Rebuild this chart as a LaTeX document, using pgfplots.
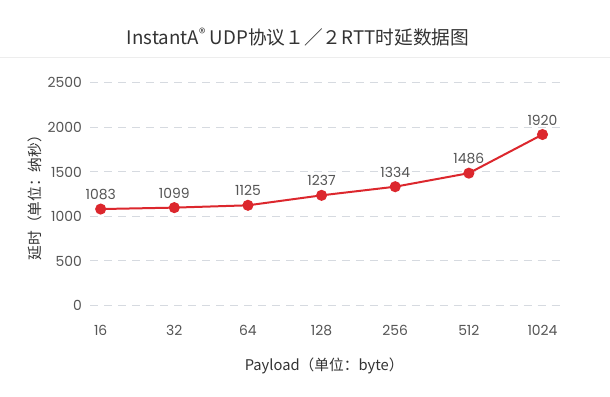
\documentclass[border=0pt]{standalone}
\usepackage{pgfplots}
\pgfplotsset{compat=1.18}
\usepackage{fontspec}
\setmainfont{Noto Sans CJK SC}
\newfontfamily\pop{Poppins}
\definecolor{linered}{HTML}{DC272D}
\definecolor{gridc}{HTML}{D6DAE0}
\definecolor{tickc}{HTML}{555555}
\definecolor{titlec}{HTML}{333333}
\begin{document}
\begin{tikzpicture}[x=1bp,y=1bp]
\path[fill=white] (0,0) rectangle (610,397);
\node[font=\fontsize{18.8}{21}\selectfont, text=titlec] at (298,360) {InstantA\textsuperscript{®} UDP协议１／２RTT时延数据图};
\draw[line width=1bp, color=black!7] (0,339.5) -- (610,339.5);
\begin{axis}[
  at={(90bp,91bp)}, anchor=south west,
  scale only axis, width=475bp, height=223bp,
  xmin=-0.14, xmax=6.3, ymin=0, ymax=2500,
  clip=false,
  axis line style={draw=none},
  major tick length=0pt,
  xtick={0,1,2,3,4,5,6},
  xticklabels={16,32,64,128,256,512,1024},
  ytick={0,500,1000,1500,2000,2500},
  ymajorgrids,
  grid style={gridc, line width=1bp, dash pattern=on 8bp off 6bp},
  ticklabel style={font=\pop\fontsize{14}{16}\selectfont, text=tickc},
  xticklabel style={yshift=-16bp},
  yticklabel style={xshift=-5bp},
  /pgf/number format/assume math mode=true,
  /pgf/number format/1000 sep={},
  xlabel={Payload（单位：byte）},
  ylabel={延时（单位：纳秒）},
  label style={font=\fontsize{14.8}{17}\selectfont, text=titlec},
  xlabel style={at={(axis description cs:0.493,0)}, anchor=center, yshift=-61bp},
  ylabel style={at={(axis description cs:-0.116,0.5)}, anchor=center, rotate=0},
  nodes near coords,
  every node near coord/.append style={font=\pop\fontsize{14}{16}\selectfont, text=tickc, anchor=south, yshift=5bp},
]
\addplot[color=linered, line width=2bp, mark=*, mark size=4.5bp, mark options={fill=linered, draw=linered}]
coordinates {(0,1083) (1,1099) (2,1125) (3,1237) (4,1334) (5,1486) (6,1920)};
\end{axis}
\end{tikzpicture}
\end{document}
